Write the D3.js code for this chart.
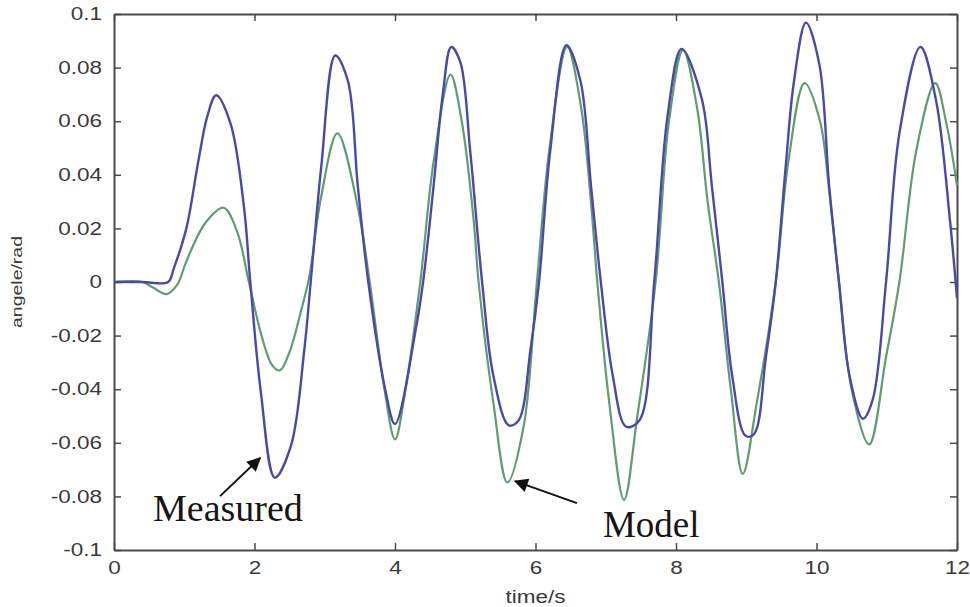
<!DOCTYPE html>
<html>
<head>
<meta charset="utf-8">
<script src="https://cdn.jsdelivr.net/npm/d3@7"></script>
<style>
  body { margin: 0; background: #fff; }
  svg { display: block; }
</style>
</head>
<body>
<div id="chart"></div>
<script>
// Values (time in s, angle in rad)
var measuredT = [0, 0.4, 0.77, 0.85, 1.03, 1.20, 1.33, 1.455, 1.66, 1.85, 1.94, 2.09, 2.29, 2.52, 2.71, 2.80, 2.95, 3.15, 3.33, 3.47, 3.62, 3.86, 4.0,
    4.31, 4.40, 4.55, 4.68, 4.80, 4.93, 5.07, 5.24, 5.40, 5.62, 5.76, 5.93, 6.05, 6.21, 6.44, 6.64, 6.79, 6.93, 7.10, 7.29, 7.48, 7.69, 7.88, 8.08,
    8.37, 8.51, 8.66, 8.80, 8.99, 9.11, 9.28, 9.42, 9.56, 9.68, 9.85, 10.04, 10.18, 10.32, 10.47, 10.66, 10.80, 10.99, 11.18, 11.48, 11.70, 11.90, 12.0];
var measuredV = [0, 0, 0, 0.005, 0.02, 0.045, 0.062, 0.0697, 0.059, 0.028, 0, -0.041, -0.073, -0.061, -0.025, 0, 0.043, 0.0845, 0.075, 0.036, 0, -0.04, -0.053,
    -0.0155, 0, 0.036, 0.07, 0.0877, 0.082, 0.049, 0, -0.035, -0.0535, -0.0516, -0.025, 0, 0.049, 0.0884, 0.075, 0.036, 0, -0.035, -0.054, -0.0516, 0, 0.062, 0.087,
    0.068, 0.036, 0, -0.035, -0.0574, -0.0568, -0.028, 0, 0.0426, 0.075, 0.0968, 0.0813, 0.036, 0, -0.035, -0.051, -0.0439, 0, 0.0555, 0.0877, 0.068, 0.023, -0.006];

var modelT = [0, 0.4, 0.55, 0.75, 0.9, 1.03, 1.3, 1.56, 1.75, 1.92, 2.10, 2.25, 2.36, 2.50, 2.65, 2.78, 2.95, 3.18, 3.47, 3.64, 3.85, 4.0,
    4.15, 4.36, 4.55, 4.79, 4.95, 5.12, 5.19, 5.40, 5.60, 5.83, 6.02, 6.20, 6.45, 6.65, 6.79, 6.88, 7.05, 7.26, 7.45, 7.71, 7.90, 8.10,
    8.30, 8.45, 8.61, 8.78, 8.95, 9.15, 9.42, 9.60, 9.83, 10.05, 10.18, 10.32, 10.50, 10.75, 10.99, 11.18, 11.42, 11.69, 11.85, 12.0];
var modelV = [0, 0, -0.002, -0.0045, -0.001, 0.0077, 0.022, 0.0277, 0.019, 0, -0.02, -0.031, -0.033, -0.026, -0.012, 0.002, 0.032, 0.0555, 0.028, 0, -0.04, -0.0587,
    -0.04, 0, 0.045, 0.0774, 0.06, 0.023, 0, -0.045, -0.0748, -0.054, 0, 0.05, 0.0877, 0.065, 0.0297, 0, -0.045, -0.0813, -0.05, 0, 0.06, 0.0865,
    0.065, 0.03, 0, -0.04, -0.0716, -0.045, 0, 0.045, 0.0742, 0.06, 0.034, 0, -0.04, -0.0606, -0.028, 0, 0.049, 0.0742, 0.059, 0.036];

var xTicks = [0, 2, 4, 6, 8, 10, 12];
var xTickLabels = ["0", "2", "4", "6", "8", "10", "12"];
var yTicks = [0.1, 0.08, 0.06, 0.04, 0.02, 0, -0.02, -0.04, -0.06, -0.08, -0.1];
var yTickLabels = ["0.1", "0.08", "0.06", "0.04", "0.02", "0", "-0.02", "-0.04", "-0.06", "-0.08", "-0.1"];

var svgWidth = 970;
var svgHeight = 607;
var margin = { top: 14, right: 13, bottom: 57, left: 114 };
var width = svgWidth - margin.left - margin.right;
var height = svgHeight - margin.top - margin.bottom;

var svg = d3.select("#chart")
    .append("svg")
    .attr("width", svgWidth)
    .attr("height", svgHeight);

var chartGroup = svg.append("g")
    .attr("transform", `translate(${margin.left}, ${margin.top})`);

var xScale = d3.scaleLinear().domain([0, 12]).range([0, width]);
var yScale = d3.scaleLinear().domain([-0.1, 0.1]).range([height, 0]);

var axisColor = "#4a4a4a";
var labelColor = "#3a3a3a";

// axes, MATLAB style: ticks inside on all four sides
var bottomAxis = d3.axisBottom(xScale).tickValues(xTicks)
    .tickFormat((d, i) => xTickLabels[i]).tickSizeInner(-7).tickSizeOuter(0).tickPadding(11);
var leftAxis = d3.axisLeft(yScale).tickValues(yTicks)
    .tickFormat((d, i) => yTickLabels[i]).tickSizeInner(-7).tickSizeOuter(0).tickPadding(12);
var topAxis = d3.axisTop(xScale).tickValues(xTicks).tickFormat("").tickSizeInner(-7).tickSizeOuter(0);
var rightAxis = d3.axisRight(yScale).tickValues(yTicks).tickFormat("").tickSizeInner(-7).tickSizeOuter(0);

var gx = chartGroup.append("g").attr("transform", `translate(0, ${height})`).call(bottomAxis);
var gy = chartGroup.append("g").call(leftAxis);
var gt = chartGroup.append("g").call(topAxis);
var gr = chartGroup.append("g").attr("transform", `translate(${width}, 0)`).call(rightAxis);

[gx, gy, gt, gr].forEach(g => {
    g.select(".domain").attr("stroke", axisColor).attr("stroke-width", 2);
    g.selectAll(".tick line").attr("stroke", axisColor).attr("stroke-width", 1.5);
    g.selectAll("text")
        .attr("fill", labelColor)
        .attr("font-family", "Liberation Sans, Arial, sans-serif")
        .attr("font-size", "18px");
});

gy.selectAll(".tick text")
    .attr("x", 0)
    .attr("transform", "translate(-12,0) scale(1.25,1)");
gx.selectAll(".tick text")
    .attr("transform", "scale(1.25,1)");

// lines
var measured = measuredT.map((t, i) => ({ t: t, v: measuredV[i] }));
var model = modelT.map((t, i) => ({ t: t, v: modelV[i] }));

var line = d3.line()
    .x(d => xScale(d.t))
    .y(d => yScale(d.v))
    .curve(d3.curveCatmullRom.alpha(0.5));

chartGroup.append("path")
    .datum(model)
    .attr("fill", "none")
    .attr("stroke", "#5f9c70")
    .attr("stroke-width", 2.2)
    .attr("d", line);

chartGroup.append("path")
    .datum(measured)
    .attr("fill", "none")
    .attr("stroke", "#4a4aa6")
    .attr("stroke-width", 2.4)
    .attr("d", line);

// arrow annotations
svg.append("defs").append("marker")
    .attr("id", "arrow")
    .attr("viewBox", "0 0 10 10")
    .attr("refX", 9)
    .attr("refY", 5)
    .attr("markerWidth", 19)
    .attr("markerHeight", 14)
    .attr("markerUnits", "userSpaceOnUse")
    .attr("orient", "auto")
    .append("path")
    .attr("d", "M0,0 L10,5 L0,10 Z")
    .attr("fill", "#111");

chartGroup.append("line")
    .attr("x1", xScale(1.51)).attr("y1", yScale(-0.0799))
    .attr("x2", xScale(2.08)).attr("y2", yScale(-0.0657))
    .attr("stroke", "#111").attr("stroke-width", 2)
    .attr("marker-end", "url(#arrow)");

chartGroup.append("line")
    .attr("x1", xScale(6.59)).attr("y1", yScale(-0.0825))
    .attr("x2", xScale(5.71)).attr("y2", yScale(-0.0743))
    .attr("stroke", "#111").attr("stroke-width", 2)
    .attr("marker-end", "url(#arrow)");

chartGroup.append("text")
    .attr("x", xScale(0.555)).attr("y", yScale(-0.0892))
    .attr("font-family", "Liberation Serif, Times New Roman, serif")
    .attr("font-size", "38px")
    .attr("fill", "#151515")
    .text("Measured");

chartGroup.append("text")
    .attr("x", xScale(6.96)).attr("y", yScale(-0.0951))
    .attr("font-family", "Liberation Serif, Times New Roman, serif")
    .attr("font-size", "37px")
    .attr("fill", "#151515")
    .text("Model");

// axis titles
svg.append("text")
    .attr("transform", `translate(${margin.left + width / 2}, 603) scale(1.25,1)`)
    .attr("text-anchor", "middle")
    .attr("font-family", "Liberation Sans, Arial, sans-serif")
    .attr("font-size", "18px")
    .attr("fill", labelColor)
    .text("time/s");

svg.append("text")
    .attr("transform", `translate(22, ${margin.top + height / 2}) rotate(-90)`)
    .attr("text-anchor", "middle")
    .attr("font-family", "Liberation Sans, Arial, sans-serif")
    .attr("font-size", "14px")
    .attr("textLength", 92)
    .attr("lengthAdjust", "spacingAndGlyphs")
    .attr("fill", labelColor)
    .text("angele/rad");
</script>
</body>
</html>
